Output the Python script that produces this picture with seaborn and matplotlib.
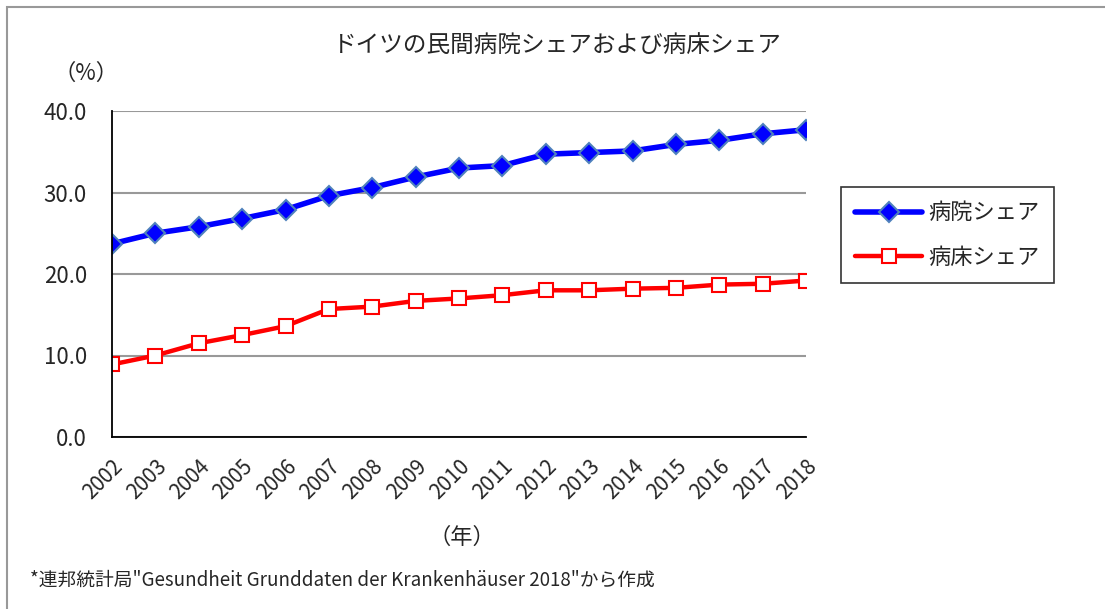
import numpy as np
import pandas as pd
import matplotlib.pyplot as plt
import matplotlib.patches as mpatches
import seaborn as sns

years = list(range(2002, 2019))
hospital_share = [23.7, 25.0, 25.8, 26.8, 27.9, 29.6, 30.6, 31.9, 33.0, 33.3,
                  34.7, 34.9, 35.1, 35.9, 36.4, 37.2, 37.7]
bed_share = [8.9, 10.0, 11.5, 12.5, 13.6, 15.7, 16.0, 16.7, 17.0, 17.4,
             18.0, 18.0, 18.2, 18.3, 18.7, 18.8, 19.2]
series_names = ['病院シェア', '病床シェア']

sns.set_style('white')
plt.rcParams['font.family'] = ['Noto Sans CJK JP', 'DejaVu Sans']

df = pd.DataFrame({'year': years, series_names[0]: hospital_share, series_names[1]: bed_share})

fig = plt.figure(figsize=(11.05, 6.09), dpi=100)
ax = fig.add_axes([112 / 1105, 1 - 437 / 609, (806 - 112) / 1105, (437 - 111) / 609])

sns.lineplot(data=df, x='year', y=series_names[0], ax=ax, color='#0000ff', lw=4.0,
             marker='D', markersize=10, markerfacecolor='#0000ff',
             markeredgecolor='#4f81bd', markeredgewidth=1.5, label=series_names[0])
sns.lineplot(data=df, x='year', y=series_names[1], ax=ax, color='#ff0000', lw=3.2,
             marker='s', markersize=10, markerfacecolor='white',
             markeredgecolor='#ff0000', markeredgewidth=1.5, label=series_names[1])

ax.set_xlim(2002, 2018)
ax.set_ylim(0, 40)
ax.set_yticks([0, 10, 20, 30, 40])
ax.set_yticklabels([f'{v:.1f}' for v in [0, 10, 20, 30, 40]], fontsize=16)
ax.set_xticks(years)
ax.set_xticklabels([str(y) for y in years], rotation=45, ha='right', va='top',
                   rotation_mode='anchor', fontsize=15)
ax.tick_params(axis='both', direction='in', length=7, width=1.3, color='black')
ax.tick_params(axis='y', pad=18)
ax.tick_params(axis='x', pad=13)
ax.set_xlabel('')
ax.set_ylabel('')
ax.yaxis.grid(True, color='#999999', lw=1.5)
ax.set_axisbelow(True)
for s in ['top', 'right']:
    ax.spines[s].set_visible(False)
for s in ['left', 'bottom']:
    ax.spines[s].set_color('black')
    ax.spines[s].set_linewidth(1.3)

leg = ax.legend(loc='upper left', bbox_to_anchor=(841 / 1105, 1 - 187 / 609),
                bbox_transform=fig.transFigure, fontsize=16, frameon=True,
                fancybox=False, edgecolor='black', handlelength=3.0,
                labelspacing=0.95, borderpad=0.65, handletextpad=0.3,
                borderaxespad=0)
leg.get_frame().set_linewidth(1.2)

fig.text(557 / 1105, 1 - 45 / 609, 'ドイツの民間病院シェアおよび病床シェア',
         ha='center', va='center', fontsize=17)
fig.text(86 / 1105, 1 - 73 / 609, '（%）', ha='center', va='center', fontsize=16)
fig.text(462 / 1105, 1 - 537 / 609, '（年）', ha='center', va='center', fontsize=16)
fig.text(30 / 1105, 1 - 580 / 609,
         '*連邦統計局"Gesundheit Grunddaten der Krankenhäuser 2018"から作成',
         ha='left', va='center', fontsize=13.5)

frame = mpatches.Rectangle((7 / 1105, -0.1), 1.2, 1 - 7 / 609 + 0.1,
                           transform=fig.transFigure, fill=False,
                           edgecolor='#999999', lw=1.5)
fig.patches.append(frame)

fig.savefig('out.png', dpi=100)
